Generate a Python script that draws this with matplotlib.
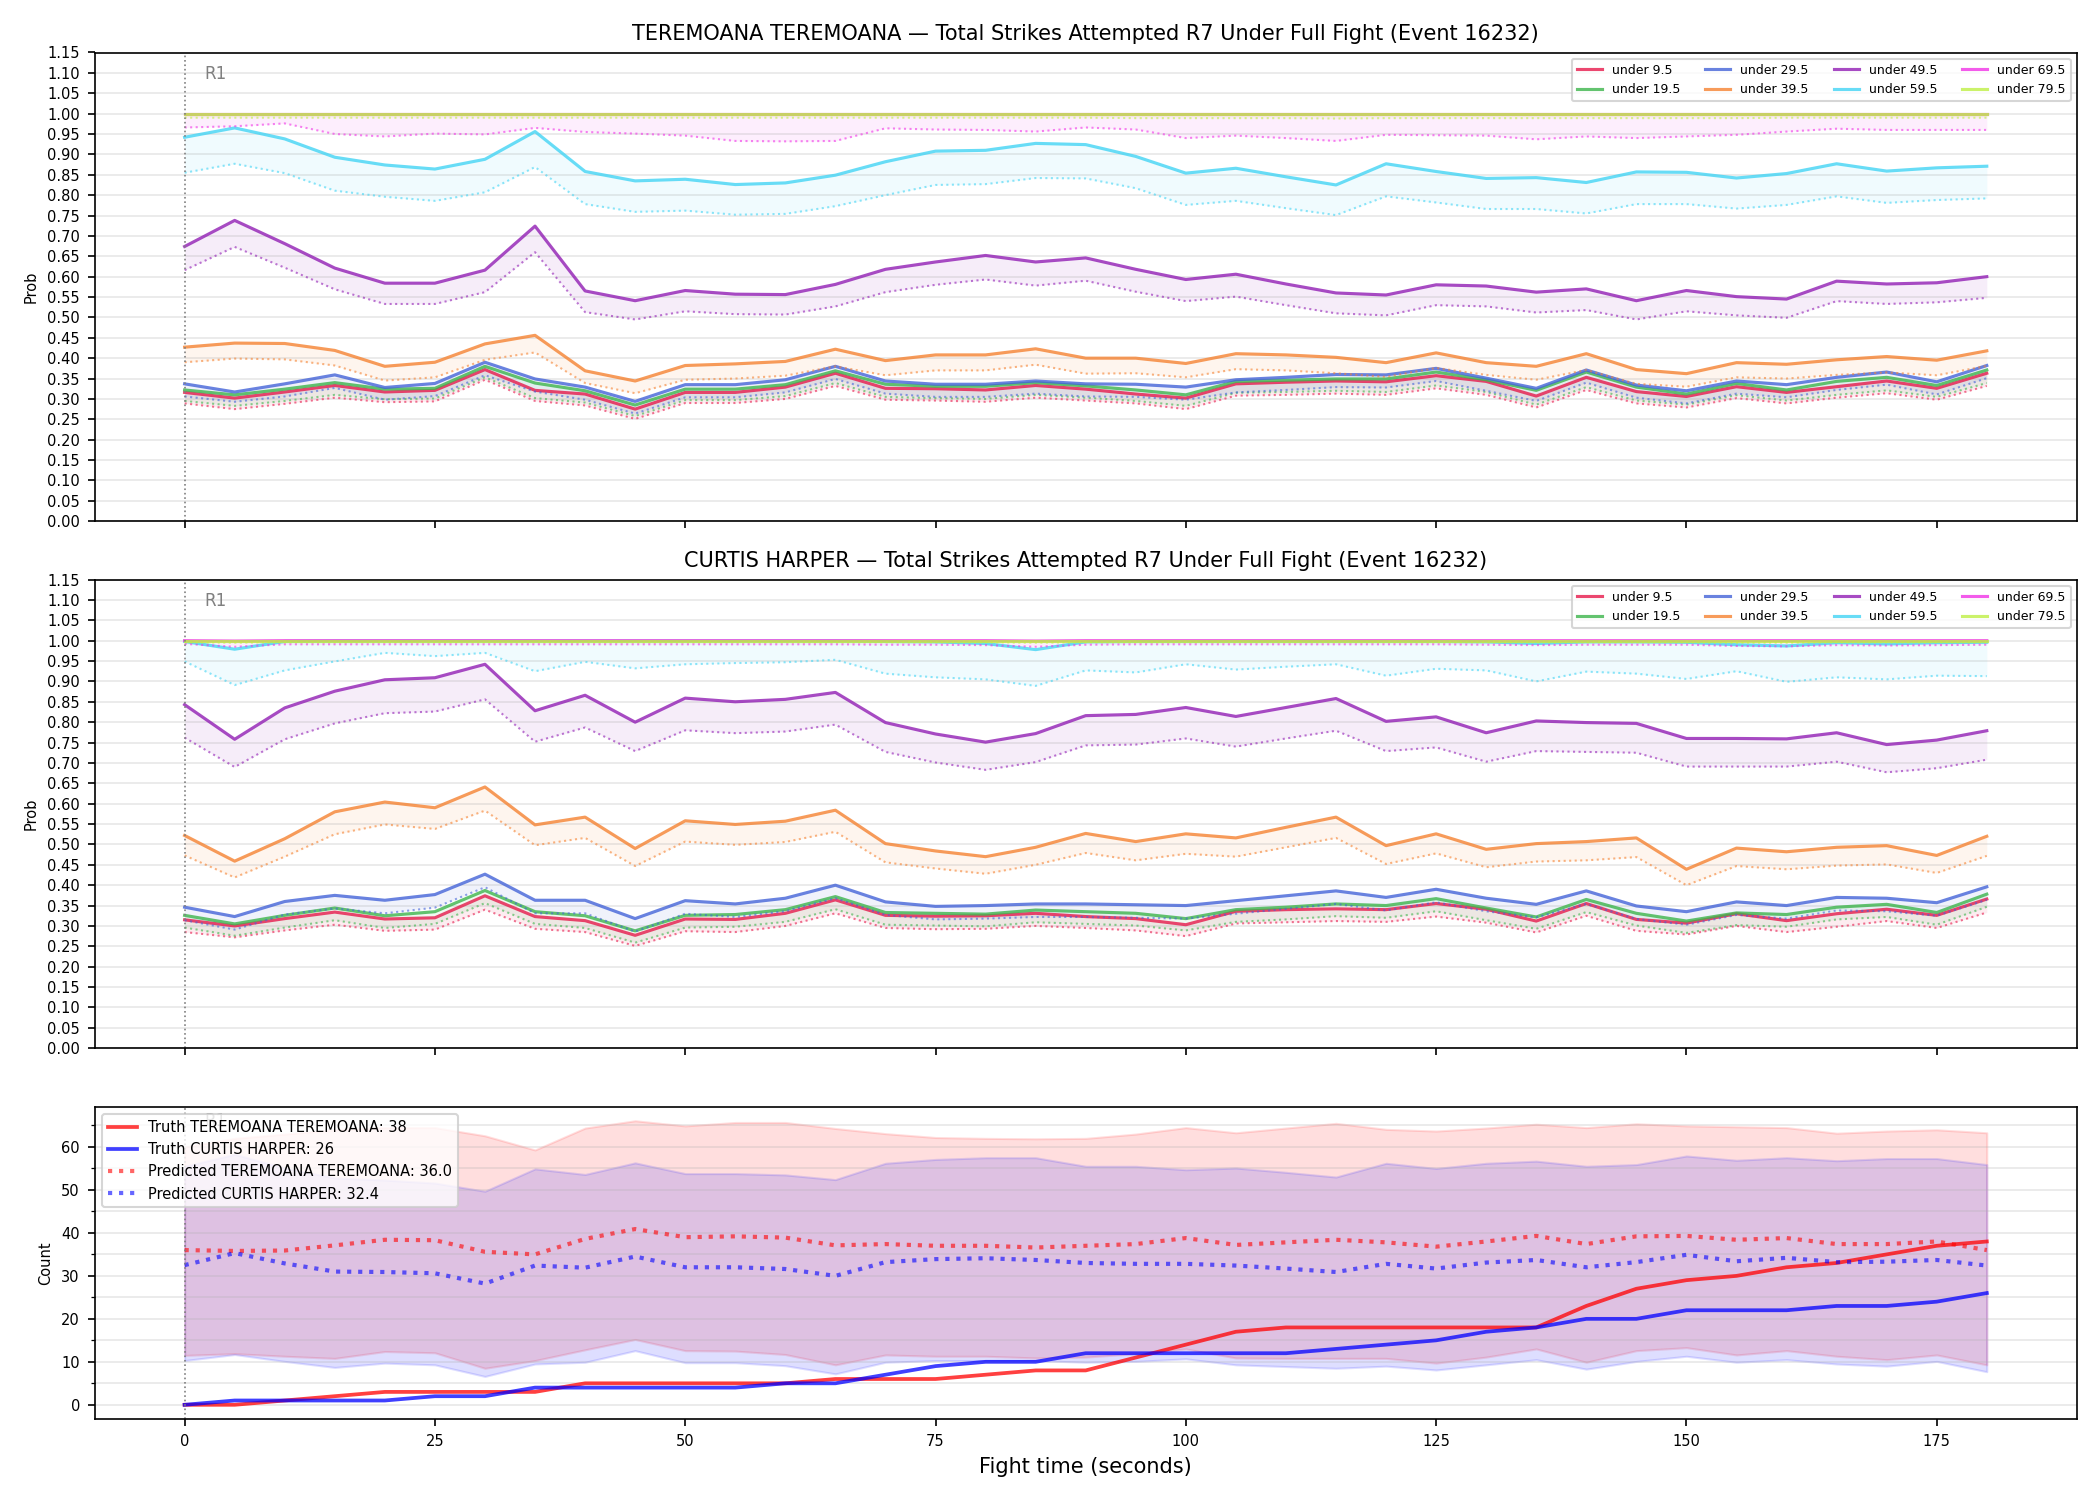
"""Strike count probability chart for one fight, two fighters plus the count panel"""

import matplotlib
matplotlib.use("Agg")
import matplotlib.pyplot as plt
from matplotlib.ticker import MultipleLocator

# fight time in seconds
t = [0, 5, 10, 15, 20, 25, 30, 35, 40, 45, 50, 55, 60, 65, 70, 75, 80, 85, 90,
     95, 100, 105, 110, 115, 120, 125, 130, 135, 140, 145, 150, 155, 160, 165, 170, 175, 180]

labels = ["under 9.5", "under 19.5", "under 29.5", "under 39.5",
          "under 49.5", "under 59.5", "under 69.5", "under 79.5"]
colors = ["#e6194b", "#3cb44b", "#4363d8", "#f58231",
          "#911eb4", "#42d4f4", "#f032e6", "#bfef45"]

# TEREMOANA - solid lines
ter_u9 = [0.316, 0.302, 0.317, 0.333, 0.317, 0.321, 0.372, 0.321, 0.312, 0.275, 0.316, 0.316, 0.329, 0.363,
          0.326, 0.325, 0.322, 0.333, 0.324, 0.312, 0.302, 0.337, 0.341, 0.344, 0.342, 0.357, 0.343, 0.307,
          0.353, 0.318, 0.306, 0.330, 0.316, 0.330, 0.344, 0.326, 0.363]
ter_u19 = [0.322, 0.310, 0.324, 0.340, 0.324, 0.326, 0.380, 0.339, 0.320, 0.285, 0.324, 0.324, 0.335, 0.369,
           0.336, 0.331, 0.331, 0.340, 0.332, 0.322, 0.310, 0.343, 0.346, 0.349, 0.349, 0.366, 0.347, 0.321,
           0.366, 0.329, 0.312, 0.338, 0.322, 0.343, 0.353, 0.333, 0.371]
ter_u29 = [0.337, 0.317, 0.337, 0.359, 0.328, 0.338, 0.390, 0.349, 0.329, 0.294, 0.335, 0.335, 0.347, 0.380,
           0.344, 0.336, 0.336, 0.344, 0.337, 0.336, 0.329, 0.347, 0.353, 0.360, 0.359, 0.375, 0.351, 0.326,
           0.371, 0.334, 0.320, 0.344, 0.335, 0.353, 0.366, 0.342, 0.382]
ter_u39 = [0.427, 0.437, 0.436, 0.419, 0.380, 0.390, 0.435, 0.456, 0.369, 0.344, 0.382, 0.386, 0.392, 0.422,
           0.394, 0.408, 0.408, 0.423, 0.400, 0.400, 0.387, 0.411, 0.408, 0.402, 0.389, 0.413, 0.389, 0.380,
           0.411, 0.372, 0.362, 0.389, 0.385, 0.396, 0.404, 0.395, 0.418]
ter_u49 = [0.674, 0.738, 0.681, 0.621, 0.584, 0.584, 0.616, 0.724, 0.565, 0.541, 0.566, 0.557, 0.556, 0.581,
           0.618, 0.636, 0.652, 0.636, 0.646, 0.618, 0.593, 0.606, 0.582, 0.560, 0.555, 0.580, 0.577, 0.562,
           0.570, 0.541, 0.566, 0.551, 0.545, 0.589, 0.582, 0.585, 0.600]
ter_u59 = [0.942, 0.965, 0.938, 0.893, 0.874, 0.864, 0.888, 0.956, 0.858, 0.835, 0.839, 0.826, 0.830, 0.849,
           0.882, 0.908, 0.910, 0.927, 0.924, 0.895, 0.854, 0.866, 0.845, 0.825, 0.877, 0.858, 0.841, 0.843,
           0.831, 0.857, 0.856, 0.842, 0.853, 0.877, 0.859, 0.867, 0.871]
ter_u69 = [0.999, 0.999, 0.999, 0.999, 0.999, 0.999, 0.999, 0.999, 0.999, 0.999, 0.999, 0.999, 0.999, 0.999,
           0.999, 0.999, 0.999, 0.999, 0.999, 0.999, 0.999, 0.999, 0.999, 0.999, 0.999, 0.999, 0.999, 0.999,
           0.999, 0.999, 0.999, 0.999, 0.999, 0.999, 0.999, 0.999, 0.999]
ter_u79 = [1.0, 1.0, 1.0, 1.0, 1.0, 1.0, 1.0, 1.0, 1.0, 1.0, 1.0, 1.0, 1.0, 1.0, 1.0, 1.0, 1.0, 1.0, 1.0,
           1.0, 1.0, 1.0, 1.0, 1.0, 1.0, 1.0, 1.0, 1.0, 1.0, 1.0, 1.0, 1.0, 1.0, 1.0, 1.0, 1.0, 1.0]

# TEREMOANA - dotted (lower) lines
ter_u9_lo = [0.289, 0.275, 0.288, 0.303, 0.292, 0.294, 0.347, 0.295, 0.284, 0.251, 0.290, 0.290, 0.300, 0.332,
             0.298, 0.296, 0.293, 0.303, 0.296, 0.289, 0.275, 0.308, 0.310, 0.313, 0.310, 0.326, 0.310, 0.279,
             0.322, 0.289, 0.279, 0.302, 0.289, 0.303, 0.314, 0.298, 0.332]
ter_u19_lo = [0.295, 0.283, 0.295, 0.310, 0.299, 0.301, 0.353, 0.302, 0.291, 0.258, 0.297, 0.297, 0.307, 0.339,
              0.305, 0.302, 0.300, 0.310, 0.303, 0.295, 0.283, 0.315, 0.317, 0.320, 0.317, 0.333, 0.317, 0.286,
              0.329, 0.296, 0.286, 0.309, 0.296, 0.310, 0.321, 0.305, 0.339]
ter_u29_lo = [0.306, 0.293, 0.306, 0.327, 0.298, 0.307, 0.358, 0.318, 0.298, 0.264, 0.304, 0.304, 0.316, 0.349,
              0.313, 0.305, 0.305, 0.313, 0.306, 0.305, 0.298, 0.316, 0.322, 0.329, 0.328, 0.344, 0.320, 0.295,
              0.340, 0.303, 0.289, 0.313, 0.304, 0.322, 0.335, 0.311, 0.351]
ter_u39_lo = [0.390, 0.399, 0.397, 0.382, 0.345, 0.353, 0.396, 0.414, 0.339, 0.314, 0.347, 0.350, 0.357, 0.380,
              0.358, 0.370, 0.370, 0.384, 0.362, 0.363, 0.353, 0.373, 0.370, 0.363, 0.354, 0.376, 0.359, 0.347,
              0.371, 0.337, 0.330, 0.353, 0.350, 0.359, 0.365, 0.358, 0.381]
ter_u49_lo = [0.616, 0.673, 0.622, 0.569, 0.533, 0.533, 0.562, 0.660, 0.513, 0.495, 0.515, 0.508, 0.507, 0.527,
              0.562, 0.580, 0.593, 0.578, 0.590, 0.563, 0.540, 0.551, 0.530, 0.510, 0.505, 0.530, 0.527, 0.512,
              0.518, 0.495, 0.515, 0.505, 0.499, 0.540, 0.533, 0.537, 0.548]
ter_u59_lo = [0.855, 0.877, 0.854, 0.811, 0.796, 0.786, 0.807, 0.869, 0.778, 0.759, 0.762, 0.752, 0.754, 0.773,
              0.800, 0.825, 0.827, 0.842, 0.841, 0.817, 0.776, 0.786, 0.768, 0.751, 0.797, 0.782, 0.766, 0.766,
              0.755, 0.778, 0.778, 0.767, 0.776, 0.797, 0.781, 0.788, 0.792]
ter_u69_lo = [0.966, 0.969, 0.976, 0.950, 0.944, 0.951, 0.949, 0.965, 0.955, 0.951, 0.946, 0.933, 0.932, 0.933,
              0.964, 0.961, 0.960, 0.956, 0.966, 0.961, 0.940, 0.946, 0.940, 0.933, 0.948, 0.947, 0.946, 0.937,
              0.944, 0.940, 0.944, 0.948, 0.956, 0.963, 0.960, 0.960, 0.960]
ter_u79_lo = [0.990, 0.990, 0.990, 0.990, 0.990, 0.990, 0.990, 0.990, 0.990, 0.990, 0.990, 0.990, 0.990, 0.990,
              0.990, 0.990, 0.990, 0.990, 0.990, 0.989, 0.989, 0.989, 0.989, 0.988, 0.989, 0.989, 0.989, 0.989,
              0.989, 0.989, 0.989, 0.989, 0.990, 0.990, 0.990, 0.990, 0.990]

# CURTIS HARPER - solid lines
har_u9 = [0.315, 0.300, 0.318, 0.334, 0.317, 0.320, 0.374, 0.323, 0.313, 0.277, 0.317, 0.316, 0.331, 0.364,
          0.326, 0.324, 0.325, 0.331, 0.323, 0.318, 0.303, 0.336, 0.340, 0.342, 0.340, 0.355, 0.341, 0.312,
          0.355, 0.316, 0.307, 0.330, 0.313, 0.330, 0.341, 0.326, 0.366]
har_u19 = [0.326, 0.305, 0.326, 0.344, 0.325, 0.335, 0.387, 0.335, 0.325, 0.288, 0.326, 0.328, 0.340, 0.372,
           0.333, 0.331, 0.329, 0.339, 0.335, 0.331, 0.318, 0.340, 0.346, 0.354, 0.350, 0.367, 0.344, 0.322,
           0.365, 0.331, 0.312, 0.332, 0.328, 0.346, 0.353, 0.333, 0.378]
har_u29 = [0.346, 0.323, 0.360, 0.375, 0.363, 0.377, 0.427, 0.363, 0.363, 0.318, 0.362, 0.354, 0.368, 0.400,
           0.359, 0.348, 0.350, 0.354, 0.354, 0.352, 0.350, 0.362, 0.374, 0.386, 0.370, 0.390, 0.368, 0.353,
           0.386, 0.349, 0.335, 0.359, 0.350, 0.370, 0.368, 0.357, 0.396]
har_u39 = [0.522, 0.459, 0.514, 0.580, 0.604, 0.590, 0.641, 0.548, 0.567, 0.490, 0.558, 0.549, 0.557, 0.584,
           0.502, 0.484, 0.470, 0.493, 0.527, 0.507, 0.526, 0.516, 0.542, 0.567, 0.497, 0.526, 0.488, 0.502,
           0.507, 0.516, 0.439, 0.491, 0.482, 0.493, 0.497, 0.473, 0.520]
har_u49 = [0.843, 0.758, 0.835, 0.876, 0.904, 0.909, 0.942, 0.828, 0.866, 0.800, 0.859, 0.850, 0.856, 0.873,
           0.799, 0.771, 0.751, 0.772, 0.816, 0.819, 0.836, 0.814, 0.836, 0.858, 0.802, 0.813, 0.774, 0.803,
           0.799, 0.797, 0.760, 0.760, 0.759, 0.774, 0.745, 0.756, 0.779]
har_u59 = [0.998, 0.979, 0.998, 0.999, 0.999, 0.999, 0.999, 0.999, 0.999, 0.999, 0.999, 0.999, 0.999, 0.999,
           0.998, 0.997, 0.993, 0.978, 0.997, 0.998, 0.998, 0.998, 0.998, 0.998, 0.998, 0.998, 0.997, 0.993,
           0.997, 0.997, 0.996, 0.990, 0.987, 0.995, 0.992, 0.995, 0.996]
har_u69 = [1.0, 0.999, 1.0, 1.0, 1.0, 1.0, 1.0, 1.0, 1.0, 1.0, 1.0, 1.0, 1.0, 1.0, 1.0, 1.0, 1.0, 0.999, 1.0,
           1.0, 1.0, 1.0, 1.0, 1.0, 1.0, 1.0, 1.0, 1.0, 1.0, 1.0, 1.0, 1.0, 1.0, 1.0, 1.0, 1.0, 1.0]
har_u79 = [1.0, 1.0, 1.0, 1.0, 1.0, 1.0, 1.0, 1.0, 1.0, 1.0, 1.0, 1.0, 1.0, 1.0, 1.0, 1.0, 1.0, 1.0, 1.0,
           1.0, 1.0, 1.0, 1.0, 1.0, 1.0, 1.0, 1.0, 1.0, 1.0, 1.0, 1.0, 1.0, 1.0, 1.0, 1.0, 1.0, 1.0]

# CURTIS HARPER - dotted (lower) lines
har_u9_lo = [0.285, 0.272, 0.289, 0.303, 0.288, 0.291, 0.340, 0.293, 0.285, 0.251, 0.287, 0.285, 0.300, 0.331,
             0.295, 0.292, 0.293, 0.300, 0.295, 0.289, 0.275, 0.306, 0.309, 0.312, 0.310, 0.323, 0.308, 0.284,
             0.325, 0.288, 0.279, 0.300, 0.285, 0.298, 0.312, 0.295, 0.333]
har_u19_lo = [0.296, 0.276, 0.296, 0.314, 0.295, 0.305, 0.356, 0.305, 0.295, 0.259, 0.296, 0.298, 0.310, 0.341,
              0.303, 0.301, 0.299, 0.309, 0.305, 0.301, 0.289, 0.310, 0.316, 0.324, 0.320, 0.336, 0.314, 0.293,
              0.334, 0.301, 0.283, 0.302, 0.298, 0.316, 0.322, 0.303, 0.347]
har_u29_lo = [0.314, 0.291, 0.328, 0.343, 0.331, 0.345, 0.395, 0.331, 0.331, 0.286, 0.330, 0.322, 0.336, 0.368,
              0.327, 0.316, 0.318, 0.322, 0.322, 0.320, 0.318, 0.330, 0.342, 0.354, 0.338, 0.358, 0.336, 0.321,
              0.354, 0.317, 0.303, 0.327, 0.318, 0.338, 0.336, 0.325, 0.364]
har_u39_lo = [0.473, 0.419, 0.470, 0.525, 0.549, 0.538, 0.583, 0.498, 0.516, 0.447, 0.507, 0.499, 0.506, 0.531,
              0.456, 0.441, 0.428, 0.450, 0.479, 0.461, 0.477, 0.470, 0.493, 0.516, 0.452, 0.478, 0.444, 0.458,
              0.461, 0.469, 0.400, 0.447, 0.439, 0.448, 0.451, 0.430, 0.472]
har_u49_lo = [0.762, 0.690, 0.758, 0.797, 0.822, 0.826, 0.856, 0.752, 0.787, 0.729, 0.780, 0.773, 0.777, 0.794,
              0.727, 0.701, 0.683, 0.702, 0.743, 0.745, 0.760, 0.740, 0.760, 0.779, 0.729, 0.738, 0.703, 0.729,
              0.727, 0.725, 0.691, 0.691, 0.691, 0.703, 0.677, 0.687, 0.708]
har_u59_lo = [0.949, 0.891, 0.927, 0.949, 0.970, 0.962, 0.970, 0.925, 0.948, 0.932, 0.942, 0.945, 0.947, 0.953,
              0.919, 0.910, 0.905, 0.889, 0.927, 0.922, 0.942, 0.929, 0.936, 0.942, 0.914, 0.931, 0.927, 0.900,
              0.924, 0.919, 0.906, 0.925, 0.899, 0.910, 0.905, 0.914, 0.913]
har_u69_lo = [0.992, 0.985, 0.991, 0.991, 0.991, 0.991, 0.991, 0.991, 0.991, 0.991, 0.991, 0.991, 0.991, 0.991,
              0.990, 0.990, 0.989, 0.985, 0.990, 0.991, 0.991, 0.991, 0.991, 0.991, 0.991, 0.991, 0.990, 0.989,
              0.990, 0.990, 0.990, 0.987, 0.986, 0.989, 0.988, 0.989, 0.990]
har_u79_lo = [0.996, 0.995, 0.996, 0.996, 0.996, 0.996, 0.996, 0.996, 0.996, 0.996, 0.996, 0.996, 0.996, 0.996,
              0.996, 0.996, 0.996, 0.995, 0.996, 0.996, 0.996, 0.996, 0.996, 0.996, 0.996, 0.996, 0.996, 0.996,
              0.996, 0.996, 0.996, 0.995, 0.995, 0.996, 0.996, 0.996, 0.996]

# count panel
truth_ter = [0, 0, 1, 2, 3, 3, 3, 3, 5, 5, 5, 5, 5, 6, 6, 6, 7, 8, 8, 11, 14, 17, 18, 18, 18, 18, 18, 18,
             23, 27, 29, 30, 32, 33, 35, 37, 38]
truth_har = [0, 1, 1, 1, 1, 2, 2, 4, 4, 4, 4, 4, 5, 5, 7, 9, 10, 10, 12, 12, 12, 12, 12, 13, 14, 15, 17, 18,
             20, 20, 22, 22, 22, 23, 23, 24, 26]
pred_ter = [36.0, 35.8, 35.9, 37.1, 38.4, 38.3, 35.6, 35.0, 38.6, 40.9, 39.0, 39.2, 38.9, 37.1, 37.4, 37.0,
            37.0, 36.6, 37.0, 37.4, 38.8, 37.2, 37.8, 38.4, 37.8, 36.8, 38.0, 39.3, 37.4, 39.2, 39.3, 38.4,
            38.8, 37.4, 37.4, 38.0, 36.0]
pred_har = [32.5, 35.3, 32.9, 31.0, 30.9, 30.6, 28.2, 32.4, 31.9, 34.5, 32.0, 32.0, 31.6, 30.0, 33.2, 33.9,
            34.1, 33.7, 33.0, 32.8, 32.8, 32.4, 31.7, 30.9, 32.8, 31.7, 33.1, 33.7, 32.0, 33.2, 34.9, 33.4,
            34.2, 33.2, 33.3, 33.7, 32.4]
ter_hi = [60.0, 62.0, 63.0, 64.0, 64.5, 64.5, 62.6, 59.3, 64.4, 66.1, 64.9, 65.7, 65.7, 64.3, 63.1, 62.2,
          62.0, 61.9, 62.0, 63.0, 64.5, 63.3, 64.4, 65.5, 64.1, 63.7, 64.4, 65.3, 64.5, 65.4, 64.9, 64.7,
          64.5, 63.2, 63.7, 64.0, 63.3]
ter_lo = [11.5, 11.9, 11.3, 10.8, 12.4, 12.1, 8.5, 10.3, 12.8, 15.2, 12.6, 12.5, 11.7, 9.3, 11.6, 11.3,
          11.3, 10.9, 11.1, 11.9, 13.0, 10.9, 10.8, 10.8, 10.8, 9.7, 11.1, 13.0, 9.9, 12.6, 13.3, 11.6,
          12.6, 11.3, 10.5, 11.6, 9.3]
har_hi = [55.5, 58.3, 55.1, 52.8, 52.3, 51.6, 49.7, 54.9, 53.6, 56.3, 53.8, 53.8, 53.5, 52.4, 56.2, 57.1,
          57.5, 57.5, 55.5, 55.5, 54.7, 55.1, 54.1, 53.0, 56.2, 55.0, 56.2, 56.7, 55.5, 55.9, 57.9, 56.9,
          57.5, 56.8, 57.3, 57.3, 55.9]
har_lo = [10.3, 11.7, 10.1, 8.7, 9.7, 9.3, 6.6, 9.5, 9.9, 12.6, 9.8, 9.8, 9.1, 7.2, 9.9, 10.3, 10.3, 10.3,
          9.9, 10.1, 10.7, 9.3, 8.9, 8.5, 9.0, 8.1, 9.3, 10.5, 8.3, 10.1, 11.3, 9.9, 10.5, 9.5, 9.0, 10.1, 7.7]


def prob_panel(ax, title, highs, lows):
    """Draw the 'under X' lines with their dotted lower edge and the band between"""
    for lab, col, hi, lo in zip(labels, colors, highs, lows):
        ax.plot(t, hi, color=col, lw=1.5, alpha=0.8, label=lab)
        ax.plot(t, lo, color=col, lw=1.0, ls=':', alpha=0.6)
        ax.fill_between(t, lo, hi, color=col, alpha=0.08, lw=0)
    ax.axvline(0, color='gray', ls=':', lw=0.8)
    ax.text(2, 0.955, "R1", color='gray', fontsize=8, va='center',
            transform=ax.get_xaxis_transform())
    ax.set_ylim(0, 1.15)
    ax.yaxis.set_major_locator(MultipleLocator(0.05))
    ax.grid(axis='y', alpha=0.3)
    ax.set_ylabel("Prob", fontsize=7)
    ax.tick_params(labelsize=7)
    ax.set_title(title, fontsize=10)
    ax.legend(loc='upper right', ncol=4, fontsize=6)


fig, axes = plt.subplots(3, 1, figsize=(14, 10), sharex=True,
                         gridspec_kw={'height_ratios': [3, 3, 2]})
fig.subplots_adjust(left=0.045, right=0.989, top=0.965, bottom=0.054, hspace=0.14)

prob_panel(axes[0], "TEREMOANA TEREMOANA \u2014 Total Strikes Attempted R7 Under Full Fight (Event 16232)",
           [ter_u9, ter_u19, ter_u29, ter_u39, ter_u49, ter_u59, ter_u69, ter_u79],
           [ter_u9_lo, ter_u19_lo, ter_u29_lo, ter_u39_lo, ter_u49_lo, ter_u59_lo, ter_u69_lo, ter_u79_lo])
prob_panel(axes[1], "CURTIS HARPER \u2014 Total Strikes Attempted R7 Under Full Fight (Event 16232)",
           [har_u9, har_u19, har_u29, har_u39, har_u49, har_u59, har_u69, har_u79],
           [har_u9_lo, har_u19_lo, har_u29_lo, har_u39_lo, har_u49_lo, har_u59_lo, har_u69_lo, har_u79_lo])

ax = axes[2]
ax.fill_between(t, ter_lo, ter_hi, color='red', alpha=0.13, lw=1)
ax.fill_between(t, har_lo, har_hi, color='blue', alpha=0.13, lw=1)
ax.plot(t, truth_ter, color='red', lw=1.8, alpha=0.75, label="Truth TEREMOANA TEREMOANA: 38")
ax.plot(t, truth_har, color='blue', lw=1.8, alpha=0.75, label="Truth CURTIS HARPER: 26")
ax.plot(t, pred_ter, color='red', lw=2, ls=':', alpha=0.6, label="Predicted TEREMOANA TEREMOANA: 36.0")
ax.plot(t, pred_har, color='blue', lw=2, ls=':', alpha=0.6, label="Predicted CURTIS HARPER: 32.4")
ax.axvline(0, color='gray', ls=':', lw=0.8)
ax.text(2, 0.955, "R1", color='gray', fontsize=8, va='center', transform=ax.get_xaxis_transform())
ax.yaxis.set_major_locator(MultipleLocator(10))
ax.yaxis.set_minor_locator(MultipleLocator(5))
ax.grid(axis='y', which='both', alpha=0.3)
ax.tick_params(labelsize=7)
ax.set_ylabel("Count", fontsize=7)
ax.set_xlabel("Fight time (seconds)", fontsize=10)
ax.legend(loc='upper left', fontsize=7)

plt.savefig("out.png", dpi=150)
